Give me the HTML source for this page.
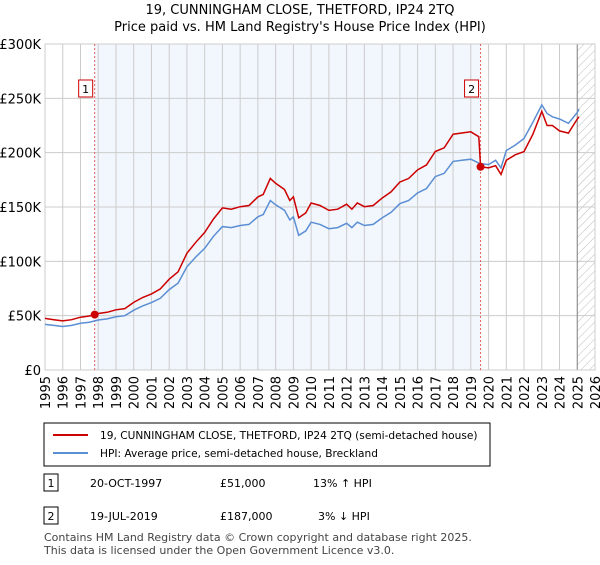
<!DOCTYPE html>
<html><head><meta charset="utf-8"><style>
body{margin:0;background:#fff;font-family:"Liberation Sans","DejaVu Sans",sans-serif;}
svg text{font-family:"DejaVu Sans","Liberation Sans",sans-serif;}
</style></head><body>
<svg id="chart" width="600" height="560" viewBox="0 0 600 560" xmlns="http://www.w3.org/2000/svg">
<defs><pattern id="hatch" width="6" height="6" patternUnits="userSpaceOnUse" patternTransform="rotate(45)"><line x1="0" y1="0" x2="0" y2="6" stroke="#bbb" stroke-width="1"/></pattern></defs>
<text x="300" y="14" font-size="13" text-anchor="middle">19, CUNNINGHAM CLOSE, THETFORD, IP24 2TQ</text>
<text x="300" y="31" font-size="13" text-anchor="middle">Price paid vs. HM Land Registry's House Price Index (HPI)</text>
<g id="plot"></g>
<g>
<rect x="44" y="423" width="446" height="43" fill="#fff" stroke="#000" stroke-width="1"/>
<line x1="53" y1="435" x2="88" y2="435" stroke="#cc0000" stroke-width="2"/>
<text x="100" y="439" font-size="10.6">19, CUNNINGHAM CLOSE, THETFORD, IP24 2TQ (semi-detached house)</text>
<line x1="53" y1="453" x2="88" y2="453" stroke="#5b8fd4" stroke-width="2"/>
<text x="100" y="457" font-size="10.6">HPI: Average price, semi-detached house, Breckland</text>
</g>
<g font-size="11">
<rect x="44" y="474" width="14" height="17" fill="#fff" stroke="#000"/><text x="51" y="487" text-anchor="middle">1</text>
<text x="90" y="487">20-OCT-1997</text><text x="220" y="487">£51,000</text><text x="313" y="487">13% ↑ HPI</text>
<rect x="44" y="507" width="14" height="17" fill="#fff" stroke="#000"/><text x="51" y="520" text-anchor="middle">2</text>
<text x="90" y="520">19-JUL-2019</text><text x="220" y="520">£187,000</text><text x="318" y="520">3% ↓ HPI</text>
</g>
<text x="44" y="541" font-size="11" fill="#444">Contains HM Land Registry data © Crown copyright and database right 2025.</text>
<text x="44" y="554" font-size="11" fill="#444">This data is licensed under the Open Government Licence v3.0.</text>
</svg>
<script>
const hpiYears=[1995,1995.5,1996,1996.5,1997,1997.5,1998,1998.5,1999,1999.5,2000,2000.5,2001,2001.5,2002,2002.5,2003,2003.5,2004,2004.5,2005,2005.5,2006,2006.5,2007,2007.3,2007.7,2008,2008.5,2008.8,2009,2009.3,2009.7,2010,2010.5,2011,2011.5,2012,2012.3,2012.6,2013,2013.5,2014,2014.5,2015,2015.5,2016,2016.5,2017,2017.5,2018,2018.5,2019,2019.5,2020,2020.4,2020.7,2021,2021.5,2022,2022.5,2023,2023.3,2023.6,2024,2024.5,2025,2025.1];
const hpiValues=[42,41,40,41,43,44,46,47,49,50,55,59,62,66,74,80,95,104,112,123,132,131,133,134,141,143,156,152,147,138,141,124,128,136,134,130,131,135,131,136,133,134,140,145,153,156,163,167,178,181,192,193,194,190,189,193,186,202,207,213,228,244,236,233,231,227,237,240];
const priceYears=[1995,1995.5,1996,1996.5,1997,1997.5,1997.8,1998,1998.5,1999,1999.5,2000,2000.5,2001,2001.5,2002,2002.5,2003,2003.5,2004,2004.5,2005,2005.5,2006,2006.5,2007,2007.3,2007.7,2008,2008.5,2008.8,2009,2009.3,2009.7,2010,2010.5,2011,2011.5,2012,2012.3,2012.6,2013,2013.5,2014,2014.5,2015,2015.5,2016,2016.5,2017,2017.5,2018,2018.5,2019,2019.45,2019.55,2020,2020.4,2020.7,2021,2021.5,2022,2022.5,2023,2023.3,2023.6,2024,2024.5,2025,2025.1];
const priceValues=[47.5,46.3,45.2,46.3,48.6,49.7,51,52,53.1,55.4,56.5,62.2,66.7,70,74.6,83.6,90.4,107.4,117.5,126.6,139,149.2,148,150.3,151.4,159.3,161.6,176.3,171.8,166.1,156,159.3,140.1,144.6,153.7,151.4,146.9,148,152.6,148,153.7,150.3,151.4,158.2,163.9,172.9,176.3,184.2,188.7,201.1,204.5,217,218.1,219.2,214.7,187,186,188,180,193,198,201,217,238,225,225,220,218,231,233];
const saleYears=[1997.8,2019.55];
const saleValues=[51,187];
const saleLabels=["1","2"];
const yTicks=[0,50,100,150,200,250,300];
const yTickLabels=["£0","£50K","£100K","£150K","£200K","£250K","£300K"];
const xTicks=[1995,1996,1997,1998,1999,2000,2001,2002,2003,2004,2005,2006,2007,2008,2009,2010,2011,2012,2013,2014,2015,2016,2017,2018,2019,2020,2021,2022,2023,2024,2025,2026];
const L=45,R=595,T=44,B=370,X0=1995,X1=2026,YMAX=300;
const xs=v=>L+(v-X0)/(X1-X0)*(R-L);
const ys=v=>B-v/YMAX*(B-T);
const NS="http://www.w3.org/2000/svg";
const g=document.getElementById('plot');
function mk(t,a){const e=document.createElementNS(NS,t);for(const k in a)e.setAttribute(k,a[k]);g.appendChild(e);return e;}
let e;
e=mk('rect',{x:xs(saleYears[0]),y:T,width:xs(saleYears[1])-xs(saleYears[0]),height:B-T,fill:'#f2f6fd'});


e=mk('rect',{x:xs(2025),y:T,width:R-xs(2025),height:B-T,fill:'url(#hatch)'});


yTicks.forEach((t,i)=>{
 e=mk('line',{x1:L,x2:R,y1:ys(t),y2:ys(t),stroke:'#ccc','stroke-width':1});
 
 
 e=mk('text',{x:L-4,y:ys(t)+5,'font-size':13,'text-anchor':'end'});e.textContent=yTickLabels[i];
 
 
});
xTicks.forEach(t=>{
 e=mk('line',{x1:xs(t),x2:xs(t),y1:T,y2:B,stroke:'#ccc','stroke-width':1});
 
 
 e=mk('text',{x:0,y:0,'font-size':13,'text-anchor':'end',transform:`translate(${xs(t)+5},${B+6}) rotate(-90)`});e.textContent=t;
 
 
});
e=mk('line',{x1:xs(2025),x2:xs(2025),y1:T,y2:B,stroke:'#888','stroke-width':1});


e=mk('rect',{x:L,y:T,width:R-L,height:B-T,fill:'none',stroke:'#ccc'});


saleYears.forEach((s,i)=>{
 e=mk('line',{x1:xs(s),x2:xs(s),y1:T,y2:B,stroke:'#e06060','stroke-width':1,'stroke-dasharray':'2,2'});
 
 
});
e=mk('path',{d:hpiYears.map((y,i)=>(i?'L':'M')+xs(y).toFixed(1)+','+ys(hpiValues[i]).toFixed(1)).join(''),fill:'none',stroke:'#5b8fd4','stroke-width':1.5});


e=mk('path',{d:priceYears.map((y,i)=>(i?'L':'M')+xs(y).toFixed(1)+','+ys(priceValues[i]).toFixed(1)).join(''),fill:'none',stroke:'#cc0000','stroke-width':1.5});


saleYears.forEach((s,i)=>{
 e=mk('circle',{cx:xs(s),cy:ys(saleValues[i]),r:4,fill:'#cc0000'});
 
 
 e=mk('rect',{x:xs(s)-16,y:80,width:14,height:17,fill:'#fff',stroke:'#cc0000'});
 
 
 e=mk('text',{x:xs(s)-9,y:93,'font-size':11,'text-anchor':'middle'});e.textContent=saleLabels[i];
 
 
});
</script>
</body></html>
